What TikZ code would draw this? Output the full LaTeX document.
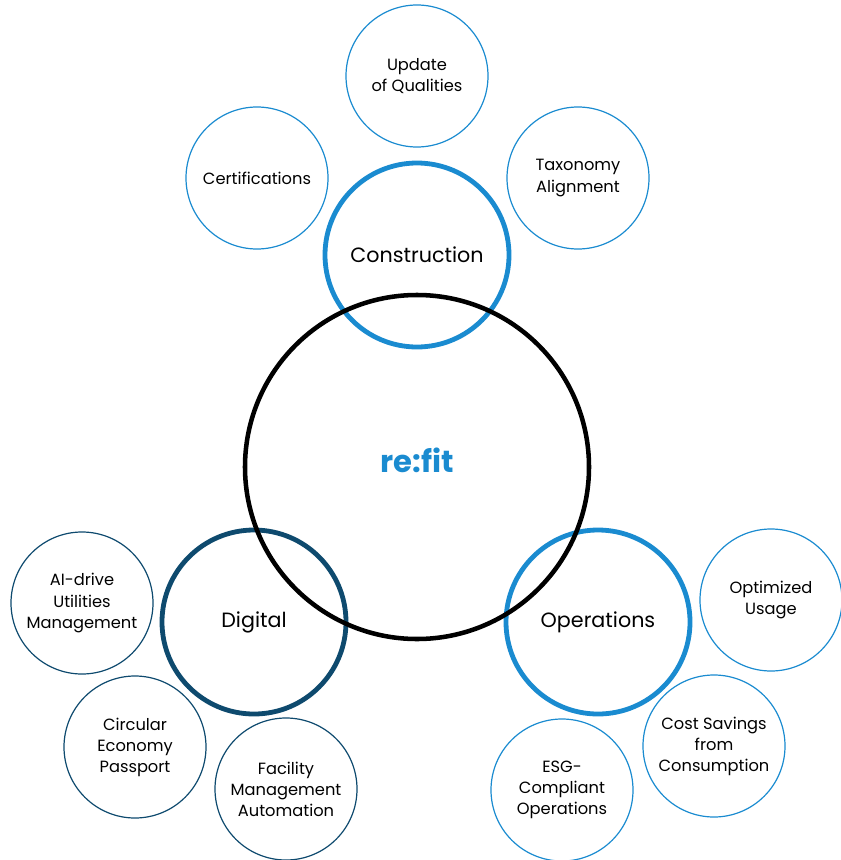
\documentclass[tikz,border=0pt]{standalone}
\usepackage{fontspec}
\setmainfont{Poppins}
\usepackage{xcolor}
\usetikzlibrary{positioning}

\definecolor{refblue}{HTML}{1A8BD0}
\definecolor{refdark}{HTML}{0E4A6E}

\begin{document}
\begin{tikzpicture}[x=0.75pt, y=-0.75pt,
    hub/.style={circle, draw=#1, line width=3.6pt, minimum size=184*0.75pt, inner sep=0pt, align=center, font=\fontsize{15.5}{18}\selectfont},
    core/.style={circle, draw=black, line width=3.4pt, minimum size=344*0.75pt, inner sep=0pt},
    leaf/.style={circle, draw=#1, line width=0.9pt, minimum size=142*0.75pt, inner sep=0pt, align=center, font=\fontsize{12.2}{15.8}\selectfont}
]
\useasboundingbox (0,0) rectangle (841,860);

% Hubs
\node[hub=refblue] (constr) at (417,255) {Construction};
\node[hub=refdark] (digital) at (254,622) {Digital};
\node[hub=refblue] (ops) at (598,622) {Operations};

% Core
\node[core] (core) at (417,467) {};
\node[font=\fontsize{23}{26}\selectfont\bfseries, text=refblue] (brand) at (417,460) {re:fit};

% Construction leaves
\node[leaf=refblue] (quality) at (417,76) {Update\\of Qualities};
\node[leaf=refblue] (cert) at (257,178) {Certifications};
\node[leaf=refblue] (taxo) at (578,178) {Taxonomy\\Alignment};

% Digital leaves
\node[leaf=refdark] (ai) at (82,603) {AI-drive\\Utilities\\Management};
\node[leaf=refdark] (circ) at (135,747) {Circular\\Economy\\Passport};
\node[leaf=refdark] (fm) at (286,789) {Facility\\Management\\Automation};

% Operations leaves
\node[leaf=refblue] (usage) at (771,600) {Optimized\\Usage};
\node[leaf=refblue] (cost) at (714,746) {Cost Savings\\from\\Consumption};
\node[leaf=refblue] (esg) at (562,790) {ESG-\\Compliant\\Operations};
\end{tikzpicture}
\end{document}
